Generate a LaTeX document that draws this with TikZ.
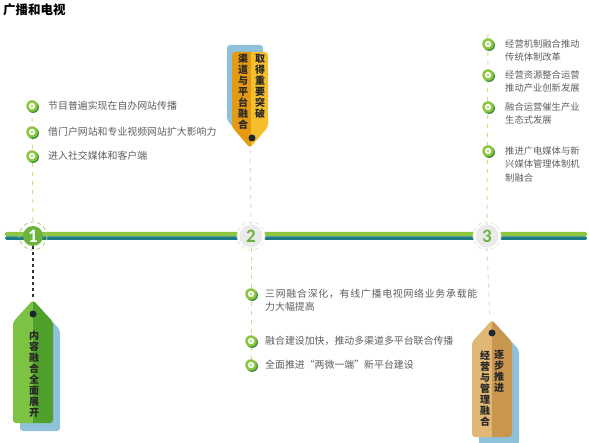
\documentclass[tikz,border=0pt]{standalone}
\usepackage{fontspec}
\newfontfamily\cjk{Noto Sans CJK SC}
\newfontfamily\cjkwide[LetterSpace=7.5]{Noto Sans CJK SC}
\newfontfamily\digitfont{Carlito}
\usetikzlibrary{shadows}
\definecolor{linegreen}{HTML}{8DC63F}
\definecolor{lineteal}{HTML}{1E7B85}
\definecolor{dashyel}{HTML}{D6DB8C}
\definecolor{dashgrey}{HTML}{DADADA}
\definecolor{textgray}{HTML}{5E5E5E}
\definecolor{bulgreen}{HTML}{8CC63F}
\definecolor{buldark}{HTML}{3F8F3A}
\definecolor{bulcenter}{HTML}{B5DB7A}
\definecolor{shadowblue}{HTML}{8FC1DA}
\definecolor{greenA}{HTML}{7CC243}
\definecolor{greenB}{HTML}{50A02C}
\definecolor{orangeA}{HTML}{E59A14}
\definecolor{orangeB}{HTML}{F4BE2C}
\definecolor{tanA}{HTML}{E0B774}
\definecolor{tanB}{HTML}{C8964E}
\definecolor{numgreen}{HTML}{6CB33E}
\definecolor{discgrey}{HTML}{EAEAEA}
\definecolor{ringgreen}{HTML}{A6CE78}
\definecolor{ringpale}{HTML}{DFE6D2}
\definecolor{holedark}{HTML}{1C2634}
\tikzset{
  itemtext/.style={font=\cjk\fontsize{9.3}{13.5}\selectfont, text=textgray, align=left, anchor=base west, inner sep=0pt},
  bigitem/.style={itemtext, font=\cjk\fontsize{9.9}{13.5}\selectfont},
  bullet/.style={circle, minimum size=11.5pt, inner sep=0pt, fill=bulgreen,
    drop shadow={shadow xshift=1.2pt, shadow yshift=-1.2pt, fill=buldark, opacity=1},
    path picture={\fill[white] (path picture bounding box.center) circle (3.2pt);
      \fill[bulcenter] (path picture bounding box.center) circle (1.6pt);}},
  dashline/.style={dashyel, line width=1pt, dash pattern=on 4pt off 5pt},
  greyline/.style={dashgrey, line width=1pt, dash pattern=on 4pt off 5pt},
  darkline/.style={black!80, line width=1.2pt, dash pattern=on 3pt off 3pt},
  tagtext/.style={font=\cjk\bfseries\fontsize{10}{11}\selectfont, text=black!85, align=center, inner sep=0pt},
  numdisc/.style={circle, inner sep=0pt, font=\digitfont\bfseries\fontsize{19}{19}\selectfont},
}
\begin{document}
\begin{tikzpicture}[x=1pt, y=-1pt]
\useasboundingbox (0,0) rectangle (589,443);

% title
\node[anchor=west, inner sep=0pt, font=\cjk\bfseries\fontsize{12.5}{13}\selectfont] (title) at (3,10) {广播和电视};

% timeline
\fill[linegreen, rounded corners=1.5pt] (5,232) rectangle (587,236.5);
\fill[lineteal, rounded corners=1.5pt] (5,236.5) rectangle (587,240);

% numbered circles
\node[circle, fill=white, minimum size=28pt, inner sep=0pt] (h2) at (251,236) {};
\node[circle, fill=white, minimum size=28pt, inner sep=0pt] (h3) at (487,236) {};
\draw[ringgreen, line width=0.8pt, dash pattern=on 4pt off 3pt] (33,236) circle (14);
\draw[ringpale, line width=0.8pt, dash pattern=on 4pt off 3pt] (251,236) circle (14);
\draw[ringpale, line width=0.8pt, dash pattern=on 4pt off 3pt] (487,236) circle (14);
\node[numdisc, fill=numgreen, text=white, minimum size=20pt] (c1) at (33,236) {1};
\node[numdisc, fill=discgrey, text=numgreen, minimum size=23pt] (c2) at (251,236) {2};
\node[numdisc, fill=discgrey, text=numgreen, minimum size=23pt] (c3) at (487,236) {3};

% connector coordinates
\coordinate (l0) at (32,100);
\coordinate (r0) at (488,34);
\coordinate (m1) at (251,366);
\coordinate (t1top) at (33,300);
\coordinate (t2bot) at (250,150);
\coordinate (t3top) at (490,319);

% dashed lines
\draw[dashline] (l0) -- (c1.north);
\draw[dashline] (r0) -- (c3.north);
\draw[dashline] (c2.south) -- (m1);
\draw[greyline] (t2bot) -- (c2.north);
\draw[greyline] (c3.south) -- (t3top);
\draw[darkline] (c1.south) -- (t1top);

% left items
\node[bullet] (lb1) at (32,106) {};
\node[bullet] (lb2) at (32,132) {};
\node[bullet] (lb3) at (32,156) {};
\node[bigitem] (lt1) at (48,109.5) {节目普遍实现在自办网站传播};
\node[bigitem] (lt2) at (48,135.5) {借门户网站和专业视频网站扩大影响力};
\node[bigitem] (lt3) at (48,159.5) {进入社交媒体和客户端};

% right items (anchor = baseline of last line)
\node[bullet] (rb1) at (488,44) {};
\node[bullet] (rb2) at (488,75) {};
\node[bullet] (rb3) at (488,107) {};
\node[bullet] (rb4) at (488,151) {};
\node[itemtext] (rt1) at (505,61) {经营机制融合推动\\传统体制改革};
\node[itemtext] (rt2) at (505,92) {经营资源整合运营\\推动产业创新发展};
\node[itemtext] (rt3) at (505,124) {融合运营催生产业\\生态式发展};
\node[itemtext] (rt4) at (505,181.5) {推进广电媒体与新\\兴媒体管理体制机\\制融合};

% middle items
\node[bullet] (mb1) at (251,294) {};
\node[bullet] (mb2) at (251,341) {};
\node[bullet] (mb3) at (251,365) {};
\node[bigitem] (mt1) at (265,311) {{\cjkwide 三网融合深化，有线广播电视网络业务承载能}\\力大幅提高};
\node[bigitem] (mt2) at (265,344.5) {融合建设加快，推动多渠道多平台联合传播};
\node[bigitem] (mt3) at (265,368.5) {全面推进“两微一端”新平台建设};

% ---- tag 1 (green, pointing up)
\fill[shadowblue, rounded corners=3pt, shift={(7,8)}] (33,300) -- (53,322) -- (53,423) -- (13,423) -- (13,322) -- cycle;
\begin{scope}
\clip[rounded corners=3pt] (33,300) -- (53,322) -- (53,423) -- (13,423) -- (13,322) -- cycle;
\fill[greenA] (10,295) rectangle (33,430);
\fill[greenB] (33,295) rectangle (56,430);
\end{scope}
\fill[holedark] (33,314) circle (3.5);
\node[tagtext] (t1) at (34,374) {内\\容\\融\\合\\全\\面\\展\\开};

% ---- tag 2 (orange, pointing down)
\fill[shadowblue, rounded corners=3pt, shift={(-5,-7)}] (232,52) -- (268,52) -- (268,127) -- (250,148) -- (232,127) -- cycle;
\begin{scope}
\clip[rounded corners=3pt] (232,52) -- (268,52) -- (268,127) -- (250,148) -- (232,127) -- cycle;
\fill[orangeA] (228,48) rectangle (251,152);
\fill[orangeB] (251,48) rectangle (272,152);
\end{scope}
\fill[holedark] (252,138) circle (3.5);
\node[tagtext] (t2r) at (260,86.5) {取\\得\\重\\要\\突\\破};
\node[tagtext] (t2l) at (243,91.5) {渠\\道\\与\\平\\台\\融\\合};

% ---- tag 3 (tan, pointing up)
\fill[shadowblue, rounded corners=3pt, shift={(7,8)}] (492,320) -- (512,342) -- (512,437) -- (472,437) -- (472,342) -- cycle;
\begin{scope}
\clip[rounded corners=3pt] (492,320) -- (512,342) -- (512,437) -- (472,437) -- (472,342) -- cycle;
\fill[tanA] (468,315) rectangle (492,440);
\fill[tanB] (492,315) rectangle (516,440);
\end{scope}
\fill[holedark] (492,333) circle (3.5);
\node[tagtext] (t3r) at (499,371) {逐\\步\\推\\进};
\node[tagtext] (t3l) at (485,389) {经\\营\\与\\管\\理\\融\\合};
\end{tikzpicture}
\end{document}
